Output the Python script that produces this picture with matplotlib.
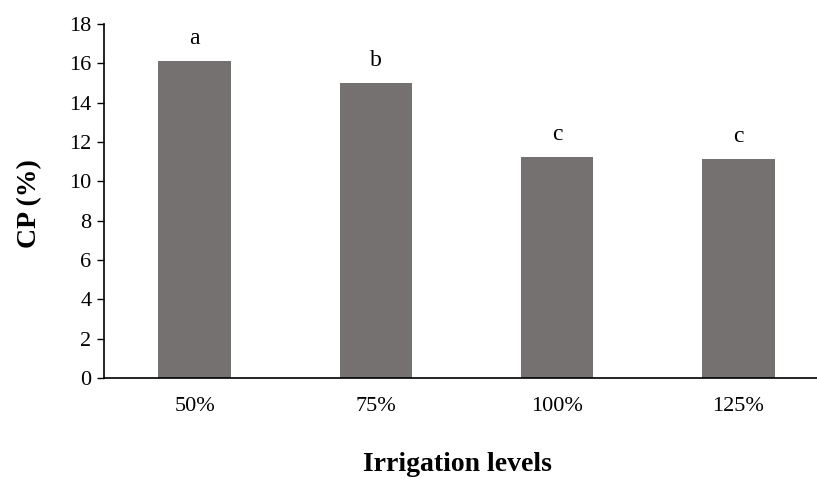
import matplotlib
matplotlib.use("Agg")
import matplotlib.pyplot as plt

levels = ["50%", "75%", "100%", "125%"]
cp = [16.12, 14.98, 11.25, 11.12]
groups = ["a", "b", "c", "c"]

plt.rcParams["font.family"] = ["Liberation Serif", "DejaVu Serif"]

fig = plt.figure(figsize=(8.17, 4.78), dpi=100)
W, H = 817, 478
# axes box in pixels: left 104, right runs past the edge, bottom 378, top 24
ax = fig.add_axes([104 / W, (H - 378) / H, (829 - 104) / W, (378 - 24) / H])

x = range(len(levels))
ax.bar(x, cp, width=0.4, color="#767171")
for i, (v, g) in enumerate(zip(cp, groups)):
    ax.text(i, v + 0.87, g, ha="center", va="baseline", fontsize=17)

ax.set_xlim(-0.5, 3.5)
ax.set_ylim(0, 18)
ax.set_yticks(range(0, 19, 2))
ax.set_xticks(list(x))
ax.set_xticklabels(levels)
ax.tick_params(axis="x", length=0, pad=14, labelsize=16)
ax.tick_params(axis="y", length=5, width=1, direction="out", labelsize=16, pad=4)

for s in ["top", "right"]:
    ax.spines[s].set_visible(False)
ax.spines["left"].set_linewidth(1.2)
ax.spines["bottom"].set_linewidth(1.2)

fig.text(30 / W, (H - 204) / H, "CP (%)", rotation=90, ha="center", va="center",
         fontsize=20, fontweight="bold")
fig.text(457.5 / W, 7 / H, "Irrigation levels", ha="center", va="baseline",
         fontsize=20, fontweight="bold")

fig.savefig("out.png", dpi=100)
